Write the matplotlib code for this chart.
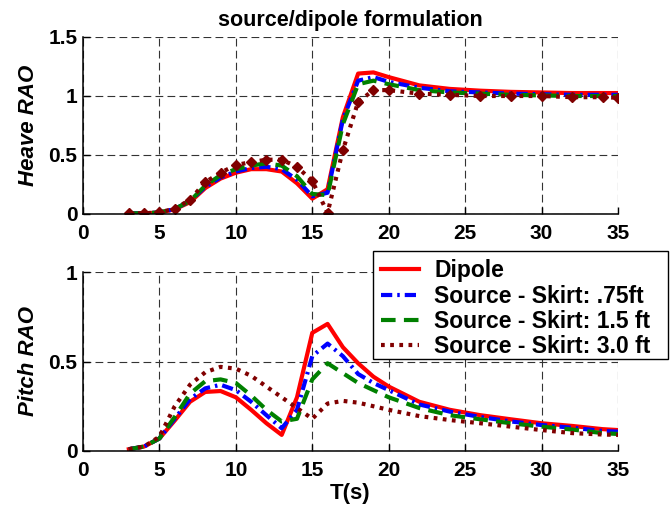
import matplotlib
matplotlib.use("Agg")
import matplotlib.pyplot as plt
from matplotlib.patches import Rectangle

plt.rcParams['font.family'] = ['Liberation Sans', 'DejaVu Sans']
plt.rcParams['font.weight'] = 'bold'

T = [3, 4, 5, 6, 7, 8, 9, 10, 11, 12, 13, 14, 15, 16, 17, 18, 19, 20,
     22, 24, 26, 28, 30, 32, 34, 35]

heave_dipole = [0.005, 0.006, 0.012, 0.04, 0.10, 0.22, 0.30, 0.35, 0.38, 0.38, 0.36, 0.26,
                0.13, 0.21, 0.82, 1.19, 1.20, 1.16, 1.09, 1.06, 1.045, 1.035, 1.03, 1.025,
                1.025, 1.025]
heave_s075 = [0.005, 0.006, 0.013, 0.042, 0.11, 0.23, 0.31, 0.36, 0.39, 0.40, 0.38, 0.29,
              0.15, 0.18, 0.80, 1.13, 1.16, 1.12, 1.07, 1.04, 1.03, 1.02, 1.015, 1.01,
              1.01, 1.01]
heave_s15 = [0.005, 0.006, 0.013, 0.043, 0.11, 0.24, 0.33, 0.38, 0.41, 0.43, 0.41, 0.32,
             0.17, 0.16, 0.76, 1.10, 1.13, 1.10, 1.05, 1.03, 1.02, 1.01, 1.005, 1.0,
             1.0, 1.0]
heave_s30 = [0.005, 0.006, 0.014, 0.045, 0.12, 0.27, 0.35, 0.415, 0.44, 0.46, 0.46, 0.40,
             0.28, 0.01, 0.54, 0.95, 1.05, 1.05, 1.02, 1.01, 1.0, 1.0, 1.0, 0.99,
             0.99, 0.985]

pitch_dipole = [0.01, 0.025, 0.07, 0.17, 0.275, 0.33, 0.335, 0.30, 0.23, 0.155, 0.09, 0.30,
                0.66, 0.71, 0.58, 0.49, 0.415, 0.36, 0.275, 0.23, 0.20, 0.177, 0.155, 0.14,
                0.122, 0.117]
pitch_s075 = [0.01, 0.025, 0.07, 0.18, 0.29, 0.35, 0.37, 0.34, 0.275, 0.20, 0.127, 0.23,
              0.53, 0.60, 0.53, 0.43, 0.38, 0.34, 0.26, 0.22, 0.19, 0.165, 0.145, 0.13,
              0.112, 0.108]
pitch_s15 = [0.01, 0.025, 0.07, 0.19, 0.32, 0.39, 0.40, 0.38, 0.31, 0.23, 0.165, 0.18,
             0.40, 0.49, 0.435, 0.38, 0.34, 0.30, 0.24, 0.20, 0.177, 0.155, 0.136, 0.12,
             0.10, 0.095]
pitch_s30 = [0.01, 0.025, 0.08, 0.25, 0.37, 0.44, 0.47, 0.46, 0.42, 0.36, 0.30, 0.24,
             0.18, 0.265, 0.28, 0.27, 0.25, 0.23, 0.195, 0.173, 0.155, 0.136, 0.117, 0.10,
             0.092, 0.09]

labels = ['Dipole', 'Source - Skirt: .75ft', 'Source - Skirt: 1.5 ft', 'Source - Skirt: 3.0 ft']
xticks = [0, 5, 10, 15, 20, 25, 30, 35]
heave_yticks = [0, 0.5, 1, 1.5]
heave_yticklabels = ['0', '0.5', '1', '1.5']
pitch_yticks = [0, 0.5, 1]
pitch_yticklabels = ['0', '0.5', '1']

RED = (1, 0, 0)
BLUE = (0, 0, 1)
GREEN = (0, 0.5, 0)
DRED = (0.5, 0, 0)
LW = 3.0

fig = plt.figure(figsize=(6.72, 5.08), dpi=100)
W, H = 672, 508
ax1 = fig.add_axes([83 / W, 1 - 214 / H, 535 / W, 177 / H])
ax2 = fig.add_axes([83 / W, 1 - 451 / H, 535 / W, 179 / H])

TICKFS = 15


def style(ax, yticks, ylabels, ylim, ylabel):
    ax.set_xlim(0, 35)
    ax.set_ylim(*ylim)
    ax.set_xticks(xticks)
    ax.set_xticklabels([str(v) for v in xticks])
    ax.set_yticks(yticks)
    ax.set_yticklabels(ylabels)
    ax.spines['top'].set_visible(False)
    ax.spines['right'].set_visible(False)
    ax.spines['left'].set_linewidth(1.1)
    ax.spines['bottom'].set_linewidth(1.1)
    ax.tick_params(axis='x', direction='in', length=5, width=1.0, labelsize=TICKFS, pad=7)
    ax.tick_params(axis='y', direction='in', length=5, width=1.0, labelsize=TICKFS, pad=4)
    for lab in ax.get_xticklabels() + ax.get_yticklabels():
        lab.set_fontweight('bold')
    ax.grid(True, color='#333333', linestyle=(0, (7.0, 3.8)), linewidth=0.8)
    ax.set_axisbelow(True)
    ax.set_ylabel(ylabel, fontsize=16, fontweight='bold', fontstyle='italic', labelpad=7)


ax1.plot(T, heave_dipole, color=RED, lw=LW, ls='-')
ax1.plot(T, heave_s075, color=BLUE, lw=LW, ls=(0, (2.7, 1.2, 0.6, 1.2)))
ax1.plot(T, heave_s15, color=GREEN, lw=LW, ls=(0, (3.5, 2.0)))
ax1.plot(T, heave_s30, color=DRED, lw=LW, ls=(0, (0.9, 1.3)), marker='D',
         markersize=5.5, markerfacecolor=DRED, markeredgecolor=DRED)
style(ax1, heave_yticks, heave_yticklabels, (0, 1.5), 'Heave RAO')
ax1.set_title('source/dipole formulation', fontsize=15.5, fontweight='bold', pad=8)

l1, = ax2.plot(T, pitch_dipole, color=RED, lw=LW, ls='-')
l2, = ax2.plot(T, pitch_s075, color=BLUE, lw=LW, ls=(0, (2.7, 1.2, 0.6, 1.2)))
l3, = ax2.plot(T, pitch_s15, color=GREEN, lw=LW, ls=(0, (3.5, 2.0)))
l4, = ax2.plot(T, pitch_s30, color=DRED, lw=LW, ls=(0, (0.9, 1.3)))
style(ax2, pitch_yticks, pitch_yticklabels, (0, 1), 'Pitch RAO')
ax2.set_xlabel('T(s)', fontsize=16, fontweight='bold', labelpad=2)

# legend frame (MATLAB-style box, wider than its contents)
frame = Rectangle((373 / W, 1 - 359 / H), 295 / W, 108 / H, transform=fig.transFigure,
                  facecolor='white', edgecolor='black', linewidth=1.0, zorder=5)
fig.patches.append(frame)

leg = fig.legend([l1, l2, l3, l4], labels, loc='upper left',
                 bbox_to_anchor=(373 / W, 1 - 251 / H), fontsize=16.5,
                 frameon=False, handlelength=1.66, handletextpad=0.65,
                 borderpad=0.36, labelspacing=0.1, borderaxespad=0)
leg.set_zorder(6)
for t in leg.get_texts():
    t.set_fontweight('bold')

fig.savefig('out.png', dpi=100)
